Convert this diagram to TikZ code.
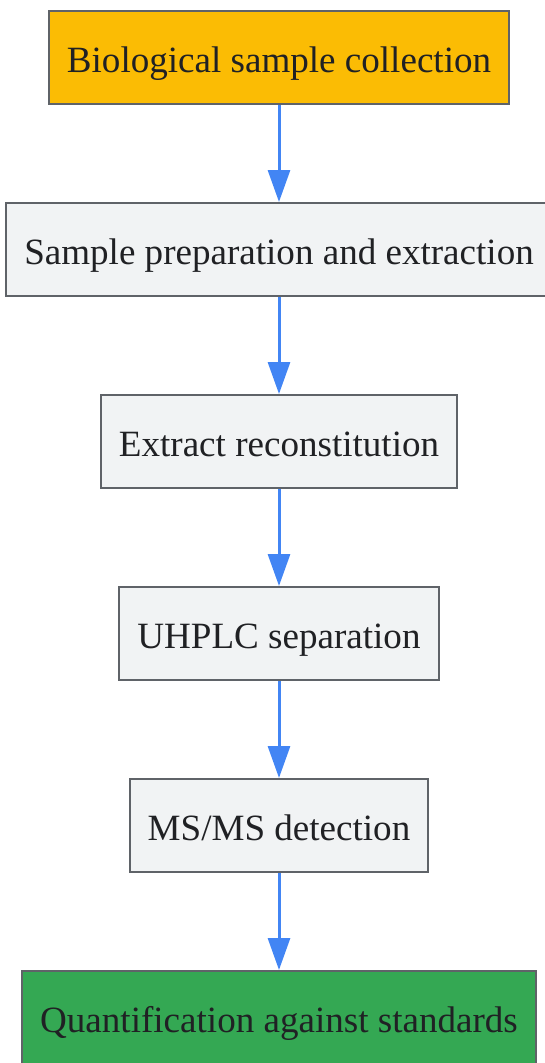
\documentclass[tikz,border=0pt]{standalone}
\usepackage{fontspec}
\setmainfont{Liberation Serif}
\usepackage{tikz}
\usetikzlibrary{arrows.meta,calc,
                shapes,positioning}

\definecolor{StartFill}{HTML}{FBBC04}
\definecolor{StepFill}{HTML}{F1F3F4}
\definecolor{EndFill}{HTML}{34A853}
\definecolor{StepBorder}{HTML}{5F6368}
\definecolor{StepText}{HTML}{202124}
\definecolor{FlowBlue}{HTML}{4285F4}

\begin{document}
\begin{tikzpicture}
  \tikzset{StepNode/.style = {shape = rectangle, fill = StepFill, draw = StepBorder, line width = 1.5pt, text = StepText, font = \fontsize{27.8}{33}\selectfont, text height = 22pt, text depth = 0pt, inner xsep = 13.5pt, minimum height = 69.75pt}};
  \tikzset{EdgeStyle/.style = {-{Triangle[width=16.5pt,length=24pt]},
      FlowBlue, line width = 2.25pt}};

  \useasboundingbox (0,0) rectangle (408.75pt,-797.25pt);

  \node[StepNode, fill = StartFill] (sample collection) at (209.25pt,-43.125pt) {Biological sample collection};
  \node[StepNode, below = 72.75pt of sample collection] (sample preparation) {Sample preparation and extraction};
  \node[StepNode, below = 72.75pt of sample preparation] (reconstitution) {Extract reconstitution};
  \node[StepNode, below = 72.75pt of reconstitution] (uhplc separation) {UHPLC separation};
  \node[StepNode, below = 72.75pt of uhplc separation] (msms detection) {MS/MS detection};
  \node[StepNode, fill = EndFill, below = 72.75pt of msms detection] (quantification) {Quantification against standards};

  \draw[EdgeStyle] (sample collection) to (sample preparation);
  \draw[EdgeStyle] (sample preparation) to (reconstitution);
  \draw[EdgeStyle] (reconstitution) to (uhplc separation);
  \draw[EdgeStyle] (uhplc separation) to (msms detection);
  \draw[EdgeStyle] (msms detection) to (quantification);
\end{tikzpicture}
\end{document}
